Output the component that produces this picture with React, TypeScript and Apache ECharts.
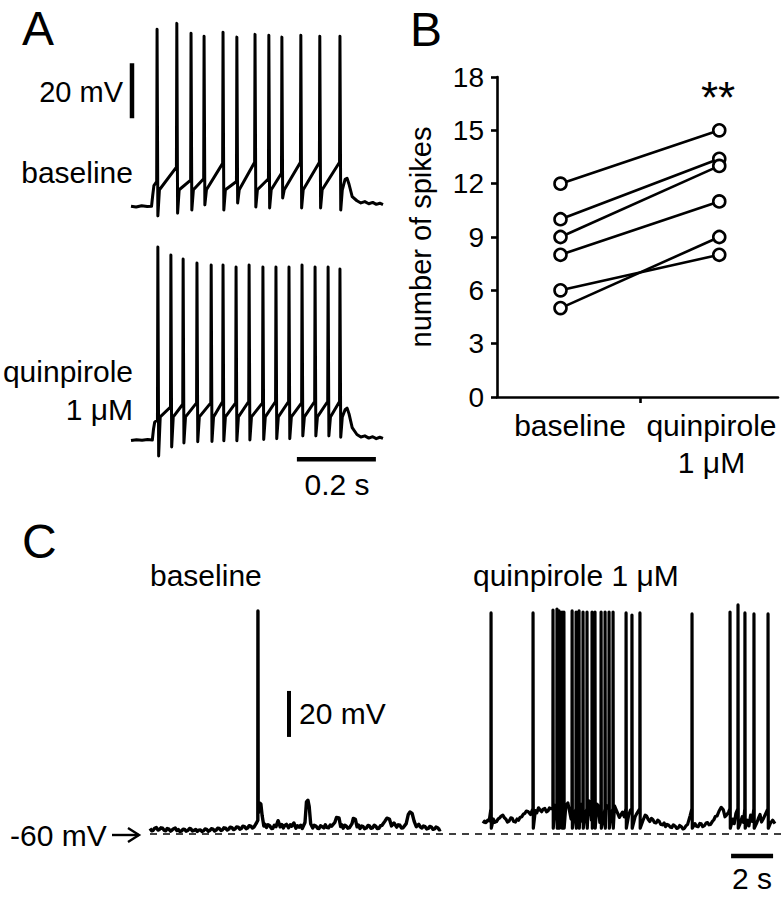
import React, { useEffect, useRef } from "react";
import * as echarts from "echarts";

const FONT = "'Liberation Sans', Arial, Helvetica, sans-serif";

// ---------- Panel A: evoked firing (time in ms, membrane potential in mV) ----------
const spikeTimesA_baseline = [66, 116, 152, 185, 233, 268, 314, 349, 382, 430, 478, 529];
const spikePeaksA_baseline = [-5.6, -3.5, -7.1, -8.2, -6.7, -8.5, -7.5, -7.8, -8.5, -7.8, -8.2, -8.2];
const spikeThrA_baseline = [-61, -55.8, -60.5, -60, -54.4, -61, -54, -60, -58, -54, -54, -54];
const spikeAhpA_baseline = [-73.5, -72.5, -71.4, -69.5, -71.4, -68.8, -70.3, -70.6, -67, -70.6, -70.6, -71.4];
const recoveryA_baseline = -64;
const preA_baseline: number[][] = [[0, -70], [13, -70.3], [27, -69.8], [41, -70.1], [52, -70], [55, -66], [58, -62.5]];
const tailA_baseline: number[][] = [[535, -64], [542, -60.2], [547, -59.8], [552, -62], [560, -66.5], [572, -68], [582, -68.8], [592, -68.3], [602, -69.1], [612, -68.6], [621, -69.3], [630, -68.9], [638, -69.4]];

const spikeTimesA_quin = [68, 101, 132, 167, 203, 233, 266, 299, 334, 367, 400, 433, 466, 499, 529];
const spikePeaksA_quin = [0.2, -2.7, -4.2, -5.6, -6.4, -6.4, -7.1, -6.4, -7.1, -7.1, -7.1, -6.4, -7.1, -7.1, -7.8];
const spikeThrA_quin = [-62.7, -58, -57, -56.5, -56.5, -56, -56.5, -56, -56.5, -56, -56, -56.5, -56, -56, -56];
const spikeAhpA_quin = [-75.8, -72.5, -71.1, -70.6, -70.5, -70.3, -70.3, -70, -69.8, -69.5, -69.5, -68.5, -68.5, -68.5, -69];
const recoveryA_quin = -61.6;
const preA_quin: number[][] = [[0, -70.2], [14, -69.9], [28, -70.1], [42, -69.8], [54, -70], [57, -66], [60, -63.5]];
const tailA_quin: number[][] = [[535, -61.6], [542, -59], [547, -58.4], [552, -60.5], [560, -65.5], [572, -68], [582, -68.9], [592, -68.5], [602, -69.3], [612, -68.8], [621, -69.5], [630, -69], [638, -69.4]];

// ---------- Panel B: number of spikes per cell ----------
const groupLabels = ["baseline", "quinpirole\n1 μM"];
const spikesBaseline = [12, 10, 9, 8, 6, 5];
const spikesQuinpirole = [15, 13.4, 13, 11, 8, 9];
const yTicksB = { min: 0, max: 18, interval: 3 };

// ---------- Panel C: spontaneous activity (time in s, mV) ----------
const baseC_baseline: number[][] = [
  [0.0, -57.6], [0.08, -58.6], [0.15, -58.4], [0.22, -57.5], [0.3, -57.2], [0.38, -58.3], [0.45, -58.0], [0.52, -57.3], [0.6, -57.5], [0.68, -58.4], [0.75, -58.6], [0.82, -57.6], [0.9, -57.9], [0.98, -58.8], [1.05, -58.3],
  [1.12, -57.7], [1.2, -57.4], [1.28, -58.5], [1.35, -58.1], [1.42, -58.9], [1.5, -58.7], [1.58, -57.9], [1.65, -58.0], [1.72, -58.8], [1.8, -58.5], [1.88, -57.6], [1.95, -57.8], [2.02, -58.7], [2.1, -58.4], [2.18, -58.0], [2.25, -58.9],
  [2.32, -58.3], [2.4, -58.2], [2.48, -58.9], [2.55, -58.6], [2.62, -57.8], [2.7, -58.0], [2.78, -58.8], [2.85, -58.5], [2.92, -57.7], [3.0, -57.9], [3.08, -58.7], [3.15, -58.3], [3.22, -57.5], [3.3, -57.6], [3.38, -58.5], [3.45, -58.2],
  [3.52, -57.3], [3.6, -57.5], [3.68, -58.3], [3.75, -57.9], [3.82, -57.0], [3.9, -57.2], [3.98, -58.1], [4.05, -57.8], [4.12, -56.9], [4.2, -57.0], [4.28, -57.9], [4.35, -57.6], [4.42, -56.6], [4.5, -56.8], [4.58, -57.7], [4.65, -57.4],
  [4.72, -56.4], [4.8, -56.6], [4.88, -57.4], [4.95, -57.0], [5.05, -55.5], [5.17, -50], [5.22, -46.5], [5.28, -47], [5.34, -52], [5.42, -56.5],
  [5.48, -55.8], [5.55, -57.2], [5.62, -56.0], [5.7, -56.4], [5.78, -57.6], [5.85, -57.5], [5.92, -56.2], [6.0, -56.8], [6.1, -54.2], [6.2, -56.9], [6.28, -55.9], [6.35, -57.4], [6.42, -56.3], [6.5, -55.8],
  [6.6, -57.3], [6.68, -56.0], [6.75, -56.6], [6.85, -55.2], [6.95, -57.5], [7.02, -56.4], [7.1, -57.0], [7.18, -56.2], [7.25, -57.6], [7.38, -55], [7.45, -46],
  [7.52, -45.3], [7.58, -48], [7.65, -55.5], [7.75, -57.4], [7.82, -56.2], [7.9, -56.5], [7.98, -57.5], [8.05, -57.6], [8.12, -56.4], [8.2, -56.8], [8.28, -57.4], [8.35, -56.0], [8.42, -57.1],
  [8.5, -57.3], [8.58, -56.1], [8.65, -56.6], [8.8, -55.0], [8.88, -52.8], [9.0, -53.0], [9.08, -56.8], [9.14, -56.0], [9.2, -57.5], [9.28, -56.2], [9.35, -56.6], [9.42, -57.5],
  [9.5, -57.2], [9.62, -55.5], [9.68, -53.2], [9.78, -53.6], [9.86, -56.9], [9.93, -56.1], [10.0, -57.6], [10.08, -56.5], [10.15, -56.8], [10.22, -57.7], [10.3, -57.4], [10.38, -56.3],
  [10.45, -56.5], [10.52, -57.5], [10.6, -57.3], [10.68, -56.2], [10.75, -56.6], [10.82, -57.6], [10.9, -57.5], [10.98, -56.4], [11.05, -56.2], [11.18, -54.5], [11.28, -53.1], [11.4, -53.5],
  [11.5, -56.5], [11.62, -55.2], [11.75, -57.0], [11.82, -56.0], [11.9, -56.2], [11.98, -57.4], [12.05, -57.3], [12.2, -55.5], [12.3, -51.5], [12.38, -50.4],
  [12.48, -51.0], [12.58, -54.5], [12.68, -56.8], [12.8, -55.8], [12.88, -57.0], [12.95, -57.4], [13.02, -56.5], [13.1, -56.8], [13.18, -57.8], [13.25, -57.6], [13.32, -56.7], [13.4, -57.0],
  [13.48, -58.0], [13.55, -57.8], [13.62, -57.0], [13.7, -57.3], [13.78, -58.2], [13.85, -57.9],
];
const spikeTimesC_baseline = [5.14];
const spikePeaksC_baseline = [37];
const thrC_baseline = -54;
const postC_baseline = -51;

const baseC_quin: number[][] = [
  [15.86, -55.4], [15.93, -54.4], [16.0, -55.0], [16.08, -54.0], [16.15, -54.3], [16.35, -53.5], [16.42, -54.9], [16.5, -54.6], [16.58, -53.4], [16.65, -53.0], [16.72, -52.2], [16.8, -51.8], [16.88, -53.0], [16.95, -53.6],
  [17.02, -54.8], [17.1, -54.4], [17.18, -53.0], [17.25, -53.2], [17.32, -54.6], [17.4, -54.8], [17.48, -53.5], [17.55, -54.0], [17.62, -52.8], [17.7, -52.5], [17.78, -51.4], [17.85, -51.0], [17.92, -50.0], [18.0, -50.2], [18.12, -51.5],
  [18.35, -49.8], [18.42, -50.8], [18.5, -48.6], [18.58, -49.6], [18.65, -50.3], [18.72, -49.2], [18.8, -48.9], [18.88, -50.4], [18.95, -50.0], [19.02, -48.7], [19.1, -49.0], [19.3, -47.5], [19.44, -53.5], [19.55, -51.5], [19.66, -55.0],
  [19.8, -48.0], [19.9, -46.5], [20.05, -53.5], [20.2, -52.0], [20.36, -46.0], [20.5, -47.0], [20.58, -54.5], [20.7, -53.0], [20.88, -45.5], [20.95, -46.2], [21.02, -54.0], [21.1, -52.5], [21.28, -47.0], [21.35, -47.8], [21.42, -55.0], [21.6, -53.0],
  [21.72, -47.5], [21.8, -48.5], [21.95, -52.0], [22.12, -47.8], [22.2, -49.5], [22.35, -52.8], [22.5, -50.5], [22.58, -52.5], [22.8, -51.5], [22.88, -49.6], [23.1, -52.5], [23.2, -50.8],
  [23.5, -53.5], [23.58, -51.8], [23.65, -52.2], [23.72, -53.6], [23.8, -54.6], [23.88, -53.2], [23.95, -53.8], [24.02, -55.0], [24.1, -55.2], [24.18, -54.0], [24.25, -54.5], [24.32, -55.8], [24.4, -56.0], [24.48, -55.2], [24.55, -56.8],
  [24.62, -55.8], [24.7, -56.2], [24.78, -57.0], [24.85, -57.2], [24.92, -56.0], [25.0, -56.5], [25.08, -57.6], [25.15, -57.4], [25.22, -56.3], [25.3, -56.8], [25.38, -57.8], [25.45, -57.5], [25.52, -56.5], [25.6, -55.8], [25.72, -52.0],
  [25.95, -55.5], [26.02, -56.6], [26.1, -56.8], [26.18, -55.4], [26.25, -55.6], [26.32, -56.8], [26.4, -56.4], [26.48, -55.2], [26.55, -55.0], [26.62, -56.0], [26.7, -55.8], [26.78, -54.5], [26.85, -53.8], [26.92, -52.4], [27.0, -52.2],
  [27.1, -50.0], [27.2, -48.4], [27.3, -49.5], [27.38, -52.5], [27.45, -51.8], [27.55, -50.5], [27.75, -53.5], [27.82, -55.5], [27.9, -51.0], [28.1, -55.5],
  [28.2, -52.5], [28.26, -55.0], [28.45, -54.0], [28.52, -56.5], [28.6, -51.8], [28.68, -54.5], [28.9, -55.0], [28.98, -53.0], [29.05, -51.5], [29.12, -54.8], [29.2, -53.5], [29.3, -51.5], [29.55, -55.2],
  [29.65, -54.0], [29.76, -55.5],
];
const spikeTimesC_quin = [16.24, 18.24, 19.19, 19.38, 19.48, 19.62, 19.71, 20.10, 20.29, 20.43, 20.62, 20.81, 21.05, 21.19, 21.48, 21.67, 21.86, 22.05, 22.67, 22.95, 23.33, 25.81, 27.62, 28.0, 28.33, 28.76, 29.43];
const spikePeaksC_quin = [36.1, 36.1, 37.4, 37.8, 37.0, 36.5, 36.5, 37.0, 36.5, 37.0, 36.5, 36.5, 36.5, 36.5, 36.5, 36.5, 36.5, 36.5, 36.1, 35.2, 36.1, 35.7, 36.5, 39.6, 36.1, 35.7, 35.7];
const thrC_quin = -49;
const postC_quin = -57.5;

const restC = -60;

// ---------- trace builders (vertices only; lines drawn by ECharts) ----------
function buildEvoked(pre: number[][], times: number[], peaks: number[], thr: number[], ahp: number[], rec: number, tail: number[][]) {
  const pts: number[][] = pre.map((p) => [p[0], p[1]]);
  times.forEach((t, i) => {
    pts.push([t - 1, thr[i]], [t, peaks[i]], [t + 2, ahp[i]]);
    if (i < times.length - 1) pts.push([t + 6, rec]);
  });
  return pts.concat(tail);
}
function buildSpont(base: number[][], times: number[], peaks: number[], thr: number, post: number) {
  const pts: number[][] = base.map((p) => [p[0], p[1]]);
  times.forEach((t, i) => {
    pts.push([t - 0.006, thr], [t, peaks[i]], [t + 0.012, post]);
  });
  pts.sort((a, b) => a[0] - b[0]);
  return pts;
}

const traceStyle = (w: number) => ({ color: "#000", width: w, join: "round" as const });

export default function App() {
  const ref = useRef<HTMLDivElement>(null);
  useEffect(() => {
    if (!ref.current) return;
    const chart = echarts.init(ref.current, undefined, { renderer: "svg" });

    const hiddenX = (gi: number, min: number, max: number) => ({ type: "value", gridIndex: gi, min, max, show: false });
    const hiddenY = (gi: number, min: number, max: number) => ({ type: "value", gridIndex: gi, min, max, show: false });

    const txt = (text: string, x: number, y: number, size: number, align = "left", extra: any = {}) => ({
      type: "text",
      x,
      y,
      silent: true,
      style: {
        text,
        fill: "#000",
        fontSize: size,
        fontFamily: FONT,
        align,
        verticalAlign: "middle",
        textAlign: align,
        textVerticalAlign: "middle",
        ...extra,
      },
    });

    const pairSeries = spikesBaseline.map((b, i) => ({
      type: "line",
      xAxisIndex: 2,
      yAxisIndex: 2,
      data: [[1, b], [2, spikesQuinpirole[i]]],
      symbol: "circle",
      symbolSize: 12,
      itemStyle: { color: "#fff", borderColor: "#000", borderWidth: 2.6 },
      lineStyle: { color: "#000", width: 2.6 },
      silent: true,
      z: 3,
    }));

    const option: any = {
      animation: false,
      backgroundColor: "#fff",
      grid: [
        { left: 131, top: 0, width: 252, height: 228.25 },
        { left: 131, top: 233.75, width: 252, height: 228.25 },
        { left: 497, top: 77, width: 281, height: 320 },
        { left: 150, top: 599.4, width: 634, height: 241.5 },
      ],
      xAxis: [
        hiddenX(0, 0, 638),
        hiddenX(1, 0, 638),
        {
          type: "value",
          gridIndex: 2,
          min: 0.6,
          max: 2.37,
          splitLine: { show: false },
          axisLine: { show: true, onZero: false, lineStyle: { color: "#000", width: 2.6 } },
          axisTick: { show: true, customValues: [1.5], length: 6, lineStyle: { color: "#000", width: 2.6 } },
          axisLabel: {
            show: true,
            customValues: [1.06, 1.951],
            formatter: (v: number) => (v < 1.5 ? groupLabels[0] : groupLabels[1]),
            fontSize: 30,
            fontFamily: FONT,
            color: "#000",
            margin: 10,
            lineHeight: 37,
          },
        },
        hiddenX(3, 0, 30.19),
      ],
      yAxis: [
        hiddenY(0, -78, 5),
        hiddenY(1, -78, 5),
        {
          type: "value",
          gridIndex: 2,
          min: yTicksB.min,
          max: yTicksB.max,
          interval: yTicksB.interval,
          splitLine: { show: false },
          axisLine: { show: true, onZero: false, lineStyle: { color: "#000", width: 2.6 } },
          axisTick: { show: true, length: 6, lineStyle: { color: "#000", width: 2.6 } },
          axisLabel: { fontSize: 28, fontFamily: FONT, color: "#000", margin: 13 },
          name: "number of spikes",
          nameLocation: "middle",
          nameRotate: 90,
          nameGap: 62,
          nameTextStyle: { fontSize: 29, fontFamily: FONT, color: "#000" },
        },
        hiddenY(3, -63, 42),
      ],
      series: [
        {
          type: "line",
          xAxisIndex: 0,
          yAxisIndex: 0,
          data: buildEvoked(preA_baseline, spikeTimesA_baseline, spikePeaksA_baseline, spikeThrA_baseline, spikeAhpA_baseline, recoveryA_baseline, tailA_baseline),
          showSymbol: false,
          symbol: "none",
          lineStyle: traceStyle(3),
          silent: true,
        },
        {
          type: "line",
          xAxisIndex: 1,
          yAxisIndex: 1,
          data: buildEvoked(preA_quin, spikeTimesA_quin, spikePeaksA_quin, spikeThrA_quin, spikeAhpA_quin, recoveryA_quin, tailA_quin),
          showSymbol: false,
          symbol: "none",
          lineStyle: traceStyle(3),
          silent: true,
        },
        // scale bars panel A
        {
          type: "line", xAxisIndex: 0, yAxisIndex: 0, clip: false, symbol: "none", silent: true,
          data: [[2.5, -38], [2.5, -18]], lineStyle: { color: "#000", width: 4.5 },
        },
        {
          type: "line", xAxisIndex: 1, yAxisIndex: 1, clip: false, symbol: "none", silent: true,
          data: [[420, -77], [620, -77]], lineStyle: { color: "#000", width: 4.5 },
        },
        ...pairSeries,
        // panel C: -60 mV dashed reference
        {
          type: "line", xAxisIndex: 3, yAxisIndex: 3, clip: false, symbol: "none", silent: true, z: 1,
          data: [[0, restC], [30.19, restC]], lineStyle: { color: "#000", width: 1.5, type: [7, 6] },
        },
        {
          type: "line",
          xAxisIndex: 3,
          yAxisIndex: 3,
          data: buildSpont(baseC_baseline, spikeTimesC_baseline, spikePeaksC_baseline, thrC_baseline, postC_baseline),
          showSymbol: false,
          symbol: "none",
          lineStyle: traceStyle(3.4),
          silent: true,
          z: 2,
        },
        {
          type: "line",
          xAxisIndex: 3,
          yAxisIndex: 3,
          data: buildSpont(baseC_quin, spikeTimesC_quin, spikePeaksC_quin, thrC_quin, postC_quin),
          showSymbol: false,
          symbol: "none",
          lineStyle: traceStyle(3.2),
          silent: true,
          z: 2,
        },
        // scale bars panel C
        {
          type: "line", xAxisIndex: 3, yAxisIndex: 3, clip: false, symbol: "none", silent: true,
          data: [[6.62, -17.8], [6.62, 2.2]], lineStyle: { color: "#000", width: 4 },
        },
        {
          type: "line", xAxisIndex: 3, yAxisIndex: 3, clip: false, symbol: "none", silent: true,
          data: [[27.67, -69.6], [29.67, -69.6]], lineStyle: { color: "#000", width: 4.5 },
        },
      ],
      graphic: [
        txt("A", 22, 28, 48),
        txt("B", 410, 29, 48),
        txt("C", 22, 541, 48),
        txt("20 mV", 123, 92, 29, "right"),
        txt("baseline", 133, 172, 30, "right"),
        txt("quinpirole", 133, 371, 30, "right"),
        txt("1 μM", 133, 409, 30, "right"),
        txt("0.2 s", 337, 484, 30, "center"),
        txt("**", 718, 97, 44, "center"),
        txt("baseline", 150, 575, 30, "left"),
        txt("quinpirole 1 μM", 473, 575, 30, "left"),
        txt("20 mV", 299, 713, 30, "left"),
        txt("-60 mV", 10, 835, 30, "left"),
        txt("2 s", 752, 878, 30, "center"),
        {
          type: "line",
          silent: true,
          shape: { x1: 112, y1: 835, x2: 139, y2: 835 },
          style: { stroke: "#000", lineWidth: 2.4 },
        },
        {
          type: "polyline",
          silent: true,
          shape: { points: [[128, 828], [139, 835], [128, 842]] },
          style: { stroke: "#000", lineWidth: 2.4, fill: "none" },
        },
      ],
    };

    chart.setOption(option);
    return () => chart.dispose();
  }, []);

  return (
    <div
      ref={ref}
      style={{ position: "absolute", left: 0, top: 0, width: 784, height: 900, background: "#fff" }}
    />
  );
}
